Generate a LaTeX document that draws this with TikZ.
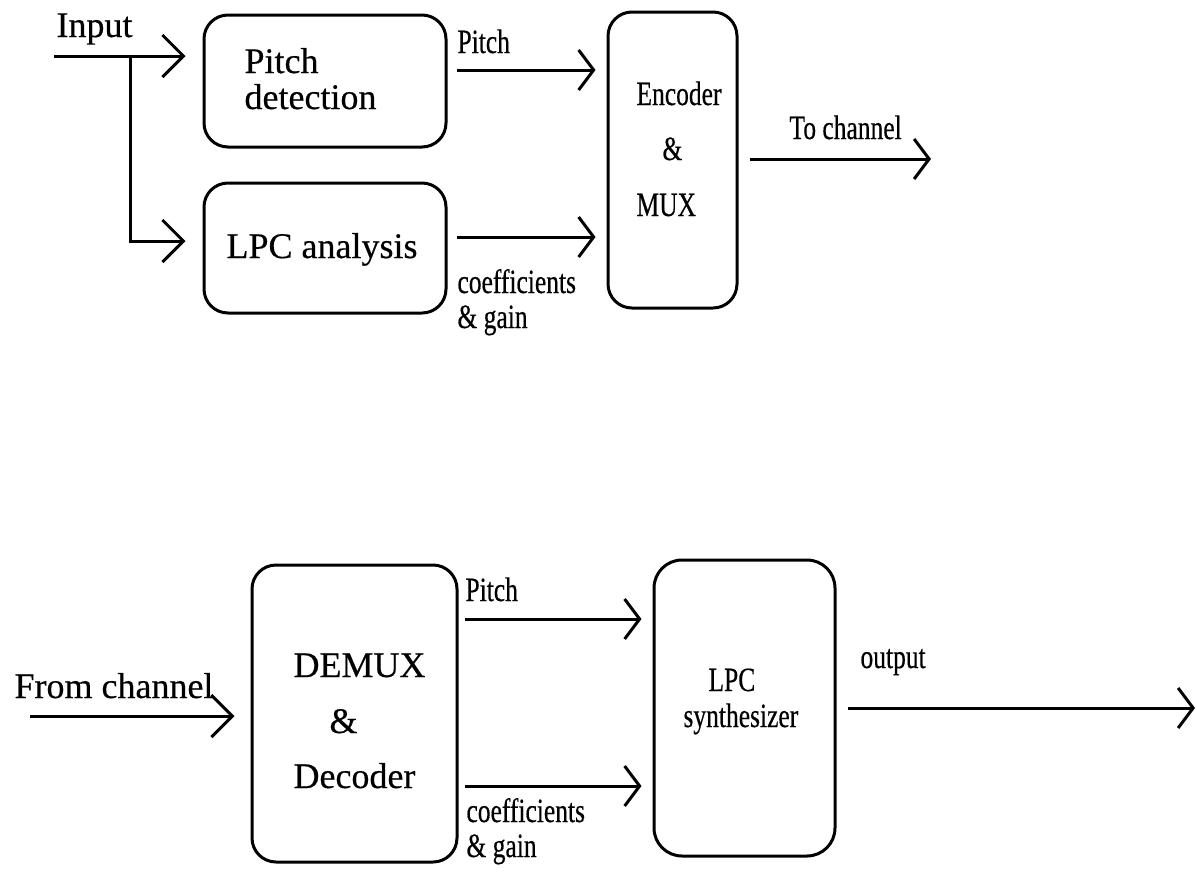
\documentclass[tikz,border=0pt]{standalone}
\usepackage{fontspec}
\setmainfont[FakeBold=0.4]{Liberation Serif}
\newfontfamily\narrowserif[FakeStretch=0.75,FakeBold=0.4]{Liberation Serif}
\usetikzlibrary{arrows.meta}
\begin{document}
\begin{tikzpicture}[x=1pt,y=-1pt,line width=3pt,
  box/.style={draw, rounded corners=24pt, inner sep=0pt},
  lbl/.style={anchor=base west, inner sep=0pt, font=\fontsize{36}{40}\selectfont},
  nlbl/.style={anchor=base west, inner sep=0pt, font=\narrowserif\fontsize{34}{38}\selectfont},
  arrL/.style={-{Straight Barb[length=21pt,width=42pt]}},
  arrR/.style={-{Straight Barb[length=15pt,width=40pt]}}]
\useasboundingbox (0,0) rectangle (1197,871);

% ---------- transmitter ----------
\node[box, minimum width=242pt, minimum height=132pt] (pd)  at (325,81) {};
\node[box, minimum width=242pt, minimum height=130pt] (lpc) at (325,248) {};
\node[box, minimum width=129pt, minimum height=296pt] (enc) at (672.5,160) {};

\node[lbl] (tIn)  at (55,37)   {Input};
\node[lbl] (tPd1) at (243,73)  {Pitch};
\node[lbl] (tPd2) at (243,109) {detection};
\node[lbl] (tLpc) at (225,258) {LPC analysis};

\node[nlbl] (tP1)  at (456,53)  {Pitch};
\node[nlbl] (tC1)  at (456,293) {coefficients};
\node[nlbl] (tG1)  at (456,328) {\& gain};
\node[nlbl] (tE1)  at (635,105) {Encoder};
\node[nlbl] (tE2)  at (661,160) {\&};
\node[nlbl] (tE3)  at (635,216) {MUX};
\node[nlbl] (tTo)  at (788,139) {To channel};

\coordinate (in)  at (54,56);
\coordinate (br)  at (130,56);
\coordinate (tx)  at (931,159);

\draw[arrL, shorten >=17pt] (in) -- (pd.west |- in);
\draw[arrL, shorten >=17pt] (br) |- (lpc.west |- 0,241);
\draw[arrR, shorten <=9pt, shorten >=11pt] (pd.east |- 0,70) -- (enc.west |- 0,70);
\draw[arrR, shorten <=9pt, shorten >=11pt] (lpc.east |- 0,237) -- (enc.west |- 0,237);
\draw[arrR, shorten <=11pt] (enc.east |- tx) -- (tx);

% ---------- receiver ----------
\node[box, minimum width=205pt, minimum height=297pt] (dmx) at (354.5,713.5) {};
\node[box, rounded corners=28pt, minimum width=181pt, minimum height=296pt] (syn) at (744.5,708) {};

\node[lbl] (tFc) at (13,698)  {From channel};
\node[lbl] (tD1) at (292,677) {DEMUX};
\node[lbl] (tD2) at (328,733) {\&};
\node[lbl] (tD3) at (292,788) {Decoder};

\node[nlbl] (tP2) at (464,601) {Pitch};
\node[nlbl] (tC2) at (465,822) {coefficients};
\node[nlbl] (tG2) at (465,857) {\& gain};
\node[nlbl] (tS1) at (707,691) {LPC};
\node[nlbl] (tS2) at (682,727) {synthesizer};
\node[nlbl] (tOut) at (859,668) {output};

\coordinate (rx)  at (30,716);
\coordinate (out) at (1195,708);

\draw[arrL, shorten >=16pt] (rx) -- (dmx.west |- rx);
\draw[arrR, shorten <=6pt, shorten >=11pt] (dmx.east |- 0,619) -- (syn.west |- 0,619);
\draw[arrR, shorten <=6pt, shorten >=11pt] (dmx.east |- 0,786) -- (syn.west |- 0,786);
\draw[arrR, shorten <=11pt] (syn.east |- out) -- (out);
\end{tikzpicture}
\end{document}
